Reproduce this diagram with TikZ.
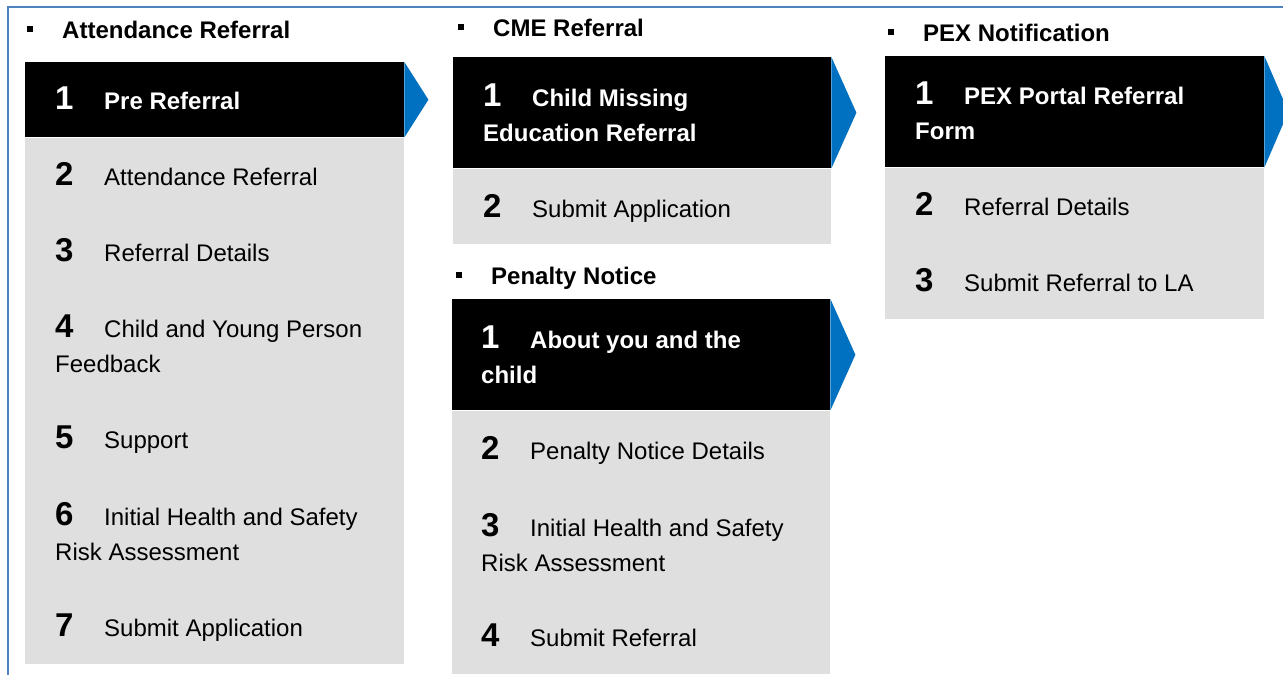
\documentclass[tikz,border=0pt]{standalone}
\usepackage{fontspec}
\setmainfont{Liberation Sans}
\usetikzlibrary{positioning}
\definecolor{stepblue}{RGB}{0,112,192}
\definecolor{stepgray}{RGB}{223,223,223}
\definecolor{frameblue}{RGB}{79,129,189}
\tikzstyle{headbox} = [rectangle, fill=black, inner sep=0pt, anchor=north west]
\tikzstyle{bodybox} = [rectangle, fill=stepgray, inner sep=0pt, anchor=north]
\tikzstyle{heading} = [anchor=base west, inner sep=0pt, font=\fontsize{24}{28}\selectfont\bfseries]
\tikzstyle{steptext} = [anchor=base west, inner sep=0pt, align=left, text=black, font=\fontsize{24}{35}\selectfont]
\tikzstyle{headtext} = [steptext, text=white, font=\fontsize{24}{35}\selectfont\bfseries]
\newcommand{\stepno}[1]{\makebox[49pt][l]{\fontsize{33}{35}\selectfont\bfseries #1}}
\newcommand{\headbullet}{\makebox[35pt][l]{\rule[6pt]{6pt}{6pt}}}

\begin{document}
\begin{tikzpicture}[x=1pt, y=-1pt]
\useasboundingbox (0,0) rectangle (1283,675);
\draw[frameblue, line width=1.5pt] (8,675) -- (8,7) -- (1283,7);

% Attendance Referral
\node (attHead) [heading] at (27,38) {\headbullet Attendance Referral};
\node (preHead) [headbox, minimum width=379pt, minimum height=75pt] at (25,62) {};
\node (preBody) [bodybox, below=0pt of preHead, minimum width=379pt, minimum height=526pt] {};
\fill[stepblue] (preHead.north east) -- ([xshift=24pt]preHead.east) -- (preHead.south east) -- cycle;
\node (att1) [headtext] at (55,109) {\stepno{1}Pre Referral};
\node (att2) [steptext] at (55,185) {\stepno{2}Attendance Referral};
\node (att3) [steptext] at (55,261) {\stepno{3}Referral Details};
\node (att4) [steptext] at (55,372) {\stepno{4}Child and Young Person\\Feedback};
\node (att5) [steptext] at (55,448) {\stepno{5}Support};
\node (att6) [steptext] at (55,560) {\stepno{6}Initial Health and Safety\\Risk Assessment};
\node (att7) [steptext] at (55,636) {\stepno{7}Submit Application};

% CME Referral
\node (cmeHead) [heading] at (458,36) {\headbullet CME Referral};
\node (cmeTop) [headbox, minimum width=378pt, minimum height=111pt] at (453,57) {};
\node (cmeBody) [bodybox, below=0pt of cmeTop, minimum width=378pt, minimum height=75pt] {};
\fill[stepblue] (cmeTop.north east) -- ([xshift=25pt]cmeTop.east) -- (cmeTop.south east) -- cycle;
\node (cme1) [headtext] at (483,141) {\stepno{1}Child Missing\\Education Referral};
\node (cme2) [steptext] at (483,217) {\stepno{2}Submit Application};

% Penalty Notice
\node (penHead) [heading] at (456,284) {\headbullet Penalty Notice};
\node (penTop) [headbox, minimum width=378pt, minimum height=111pt] at (452,299) {};
\node (penBody) [bodybox, below=0pt of penTop, minimum width=378pt, minimum height=263pt] {};
\fill[stepblue] (penTop.north east) -- ([xshift=25pt]penTop.east) -- (penTop.south east) -- cycle;
\node (pen1) [headtext] at (481,383) {\stepno{1}About you and the\\child};
\node (pen2) [steptext] at (481,459) {\stepno{2}Penalty Notice Details};
\node (pen3) [steptext] at (481,571) {\stepno{3}Initial Health and Safety\\Risk Assessment};
\node (pen4) [steptext] at (481,646) {\stepno{4}Submit Referral};

% PEX Notification
\node (pexHead) [heading] at (888,41) {\headbullet PEX Notification};
\node (pexTop) [headbox, minimum width=379pt, minimum height=111pt] at (885,56) {};
\node (pexBody) [bodybox, below=0pt of pexTop, minimum width=379pt, minimum height=151pt] {};
\fill[stepblue] (pexTop.north east) -- ([xshift=24pt]pexTop.east) -- (pexTop.south east) -- cycle;
\node (pex1) [headtext] at (915,139) {\stepno{1}PEX Portal Referral\\Form};
\node (pex2) [steptext] at (915,215) {\stepno{2}Referral Details};
\node (pex3) [steptext] at (915,291) {\stepno{3}Submit Referral to LA};
\end{tikzpicture}
\end{document}
